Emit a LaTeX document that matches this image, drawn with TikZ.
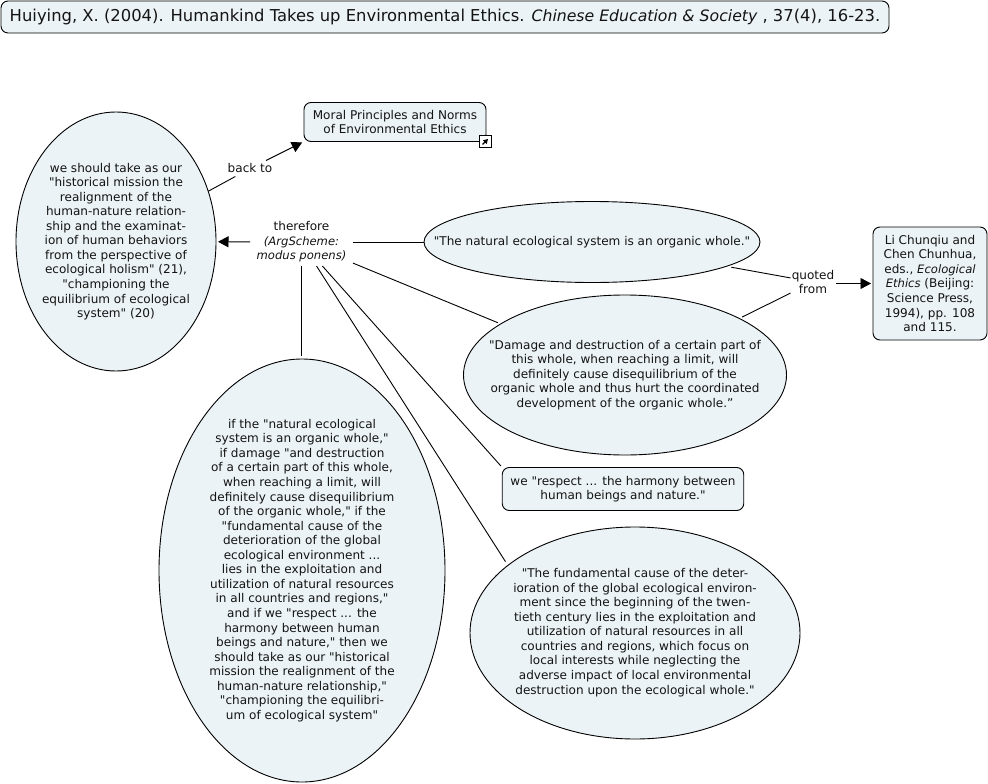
\documentclass[tikz,border=0pt]{standalone}
\usepackage{fontspec}
\setmainfont{DejaVu Sans}[Ligatures=TeXOff]
\usetikzlibrary{shapes.geometric,arrows.meta}
\definecolor{nodefill}{RGB}{236,243,246}
\definecolor{inkc}{RGB}{20,20,20}
\tikzset{
  x=1pt,y=-1pt,
  base/.style={draw=black,line width=0.9pt,fill=nodefill,inner sep=0pt,outer sep=0pt},
  bub/.style={base,ellipse},
  box/.style={base,rectangle,rounded corners=7pt},
  txt/.style={text=inkc,align=center,inner sep=0pt,outer sep=0pt,font=\fontsize{12.05}{14.55}\selectfont},
  lab/.style={txt,rectangle},
  conn/.style={draw=black,line width=0.9pt},
  arr/.style={conn,shorten >=2pt,-{Triangle[length=10.5pt,width=11pt]}}
}
\newcommand{\smallit}[1]{{\fontsize{11.6}{14.55}\selectfont\itshape #1}}
\begin{document}
\begin{tikzpicture}
\useasboundingbox (0,0) rectangle (988,784);
\fill[white] (0,0) rectangle (988,784);
% header
\node[box,minimum width=888pt,minimum height=32pt] (hdr) at (445,17) {};
\node[txt,font=\fontsize{16.38}{18}\selectfont] (hdrt) at (hdr) {Huiying, X. (2004). Humankind Takes up Environmental Ethics. {\fontsize{15.7}{18}\selectfont\itshape Chinese Education \& Society} , 37(4), 16-23.};
% nodes
\node[bub,minimum width=200pt,minimum height=259pt] (e1) at (116,241.5) {};
\node[txt] (e1t) at (e1) {we should take as our\\"historical mission the\\realignment of the\\human-nature relation-\\ship and the examinat-\\ion of human behaviors\\from the perspective of\\ecological holism" (21),\\"championing the\\equilibrium of ecological\\system" (20)};
\node[box,minimum width=182pt,minimum height=39pt] (moral) at (395,122) {};
\node[txt] (moralt) at (moral) {Moral Principles and Norms\\of Environmental Ethics};
\node[bub,minimum width=336pt,minimum height=81pt] (e2) at (592,242) {};
\node[txt] (e2t) at (e2) {"The natural ecological system is an organic whole."};
\node[bub,minimum width=323pt,minimum height=160pt] (e3) at (625,375) {};
\node[txt] (e3t) at (e3) {"Damage and destruction of a certain part of\\this whole, when reaching a limit, will\\definitely cause disequilibrium of the\\organic whole and thus hurt the coordinated\\development of the organic whole.”};
\node[box,minimum width=241.5pt,minimum height=43pt] (resp) at (623,489) {};
\node[txt] (respt) at (resp) {we "respect ... the harmony between\\human beings and nature."};
\node[bub,minimum width=330pt,minimum height=212pt] (e5) at (635,633) {};
\node[txt,yshift=0.5pt] (e5t) at (e5) {"The fundamental cause of the deter-\\ioration of the global ecological environ-\\ment since the beginning of the twen-\\tieth century lies in the exploitation and\\utilization of natural resources in all\\countries and regions, which focus on\\local interests while neglecting the\\adverse impact of local environmental\\destruction upon the ecological whole."};
\node[bub,minimum width=286pt,minimum height=423pt] (e4) at (302,570.5) {};
\node[txt] (e4t) at (e4) {if the "natural ecological\\system is an organic whole,"\\if damage "and destruction\\of a certain part of this whole,\\when reaching a limit, will\\definitely cause disequilibrium\\of the organic whole," if the\\"fundamental cause of the\\deterioration of the global\\ecological environment ...\\lies in the exploitation and\\utilization of natural resources\\in all countries and regions,"\\and if we "respect ... the\\harmony between human\\beings and nature," then we\\should take as our "historical\\mission the realignment of the\\human-nature relationship,"\\"championing the equilibri-\\um of ecological system"};
\node[box,minimum width=114pt,minimum height=113pt] (li) at (930,283.5) {};
\node[txt] (lit) at (li) {Li Chunqiu and\\Chen Chunhua,\\eds., \smallit{Ecological}\\\smallit{Ethics} (Beijing:\\Science Press,\\1994), pp. 108\\and 115.};
% linking labels
\node[lab,minimum width=103pt,minimum height=48pt] (tf) at (301.5,242) {therefore\\\smallit{(ArgScheme:}\\\smallit{modus ponens)}};
\node[lab,minimum width=46pt,minimum height=16pt] (back) at (250,168.5) {back to};
\node[lab,minimum width=45pt,minimum height=32pt] (quoted) at (813,282) {quoted\\from};
% connectors
\draw[arr] (tf) -- (e1);
\draw[conn] (tf) -- (e2);
\draw[conn,shorten >=3pt] (tf) -- (e3);
\draw[conn,shorten >=2pt] (tf.-49) -- (resp.north west);
\draw[conn,shorten >=4.5pt] (tf.-58) -- (e5.152);
\draw[conn,shorten >=3pt,xshift=-1pt] (tf.south) -- (tf.south |- e4.north);
\draw[conn] (e1) -- (back);
\draw[arr] (back) -- (moral.south west);
\draw[conn,shorten <=5pt] (e2) -- (quoted);
\draw[conn,shorten <=3pt] (e3) -- (quoted);
\draw[arr] (quoted.east |- li) -- (li.west);
% link icon
\node[draw=black,line width=1pt,fill=white,minimum size=12pt,inner sep=0pt] (icon) at (485.5,141.5) {};
\draw[black,line width=1.4pt,-{Triangle[length=4.5pt,width=5pt]}] (icon.center)++(-3,3) -- ++(5.5,-5.5);
\end{tikzpicture}
\end{document}
